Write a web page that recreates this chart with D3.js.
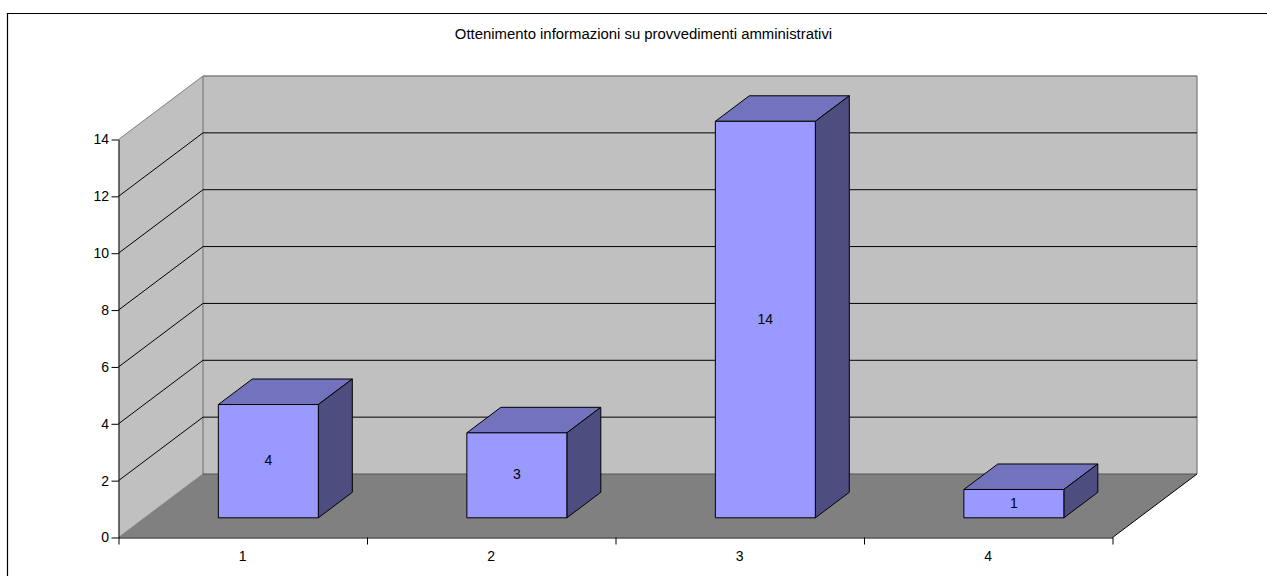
<!DOCTYPE html>
<html><head><meta charset="utf-8">
<script src="https://cdn.jsdelivr.net/npm/d3@7"></script>
<style>html,body{margin:0;padding:0;background:#fff}svg{display:block}text{font-family:"Liberation Sans",Arial,sans-serif;font-size:14px;fill:#000}</style>
</head><body><svg id="c" width="1267" height="576"></svg>
<script>
const title = "Ottenimento informazioni su provvedimenti amministrativi";
const categories = ["1","2","3","4"];
const values = [4,3,14,1];
const yTicks = [0,2,4,6,8,10,12,14];

const svg = d3.select("#c");
const x0=118.5, x1=1112.5, y0=537.5, y14=139.5;
const dx=84.5, dy=-63.5;          // full depth of the plot box
const zFront=0.31, zBack=0.712;   // bar extents along the depth axis
const x = d3.scaleBand().domain(categories).range([x0,x1]);
const xEdges = d3.scaleLinear().domain([0,categories.length]).range([x0,x1]);
const y = d3.scaleLinear().domain([0,14]).range([y0,y14]);
const yBar = d3.scaleLinear().domain([0,14]).range([y0,y14+1.5]);
const barW = 100;
const P = (px,py,z)=>[px+dx*z,py+dy*z];
const poly = pts=>pts.map(p=>p.map(v=>+v.toFixed(2)).join(",")).join(" ");

// chart frame: only top and left edges fall inside the picture
svg.append("path").attr("d","M1267,13.5H7.5V576").attr("fill","none").attr("stroke","#000").attr("stroke-width",1.2);

const yTop=y(14), yBot=y(0);
// walls and floor
svg.append("polygon").attr("points",poly([P(x0,yBot,0),P(x0,yBot,1),P(x0,yTop,1),P(x0,yTop,0)])).attr("fill","#c0c0c0").attr("stroke","none");
svg.append("polygon").attr("points",poly([P(x0,yBot,1),P(x1,yBot,1),P(x1,yTop,1),P(x0,yTop,1)])).attr("fill","#c0c0c0").attr("stroke","none");
svg.append("polygon").attr("points",poly([P(x0,yBot,0),P(x1,yBot,0),P(x1,yBot,1),P(x0,yBot,1)])).attr("fill","#808080").attr("stroke","none");

const seg=(a,b,c,w)=>svg.append("line").attr("x1",a[0]).attr("y1",a[1]).attr("x2",b[0]).attr("y2",b[1]).attr("stroke",c).attr("stroke-width",w||1);
// wall edges
seg(P(x0,yTop,0),P(x0,yTop,1),"#808080");
seg(P(x0,yTop,1),P(x1,yTop,1),"#808080",1.6);
seg(P(x0,yTop,1),P(x0,yBot,1),"#808080",1.3);
seg(P(x1,yTop,1),P(x1,yBot,1),"#808080",1.3);
seg(P(x0,yBot,0),P(x0,yBot,1),"#808080");
seg(P(x0,yBot,1),P(x1,yBot,1),"#555",1.2);
// gridlines
yTicks.filter(t=>t>0&&t<14).forEach(t=>{
  seg(P(x0,y(t),0),P(x0,y(t),1),"#000");
  seg(P(x0,y(t),1),P(x1,y(t),1),"#000");
});
seg(P(x1,yBot,0),P(x1,yBot,1),"#000");

// bars
const bars=svg.append("g").selectAll("g").data(categories.map((c,i)=>({c,v:values[i]}))).join("g");
const edge=d=>{const m=x(d.c)+x.bandwidth()/2-0.6;return [m-barW/2,m+barW/2];};
bars.append("polygon").attr("points",d=>{const[a,b]=edge(d);return poly([P(a,yBar(d.v),zFront),P(b,yBar(d.v),zFront),P(b,yBar(d.v),zBack),P(a,yBar(d.v),zBack)]);}).attr("fill","#7373bd");
bars.append("polygon").attr("points",d=>{const[a,b]=edge(d);return poly([P(b,yBar(0),zFront),P(b,yBar(0),zBack),P(b,yBar(d.v),zBack),P(b,yBar(d.v),zFront)]);}).attr("fill","#4d4d80");
bars.append("polygon").attr("points",d=>{const[a,b]=edge(d);return poly([P(a,yBar(0),zFront),P(b,yBar(0),zFront),P(b,yBar(d.v),zFront),P(a,yBar(d.v),zFront)]);}).attr("fill","#9999ff");
bars.selectAll("polygon").attr("stroke","#000").attr("stroke-width",1).attr("stroke-linejoin","round");
bars.append("text").attr("text-anchor","middle")
  .attr("x",d=>P((edge(d)[0]+edge(d)[1])/2,0,zFront)[0])
  .attr("y",d=>(P(0,yBar(0),zFront)[1]+P(0,yBar(d.v),zFront)[1])/2+4)
  .text(d=>d.v);

// axes
svg.append("g").attr("transform",`translate(${x0},0)`)
  .call(d3.axisLeft(y).tickValues(yTicks).tickSize(7).tickPadding(2.5).tickSizeOuter(0));
svg.append("g").attr("transform",`translate(0,${y0})`)
  .call(d3.axisBottom(xEdges).ticks(categories.length).tickFormat("").tickSize(7).tickSizeOuter(0));
const al=svg.append("g").attr("transform",`translate(0,${y0})`)
  .call(d3.axisBottom(x).tickSize(0).tickPadding(14));
al.select(".domain").remove();
svg.selectAll("g.tick text").style("font-size","14px").style("font-family",'"Liberation Sans",Arial,sans-serif').attr("fill","#000");
svg.selectAll(".domain,.tick line").attr("stroke","#000");

svg.append("text").attr("x",643.5).attr("y",39).attr("text-anchor","middle").style("font-size","14.9px").text(title);
</script></body></html>
